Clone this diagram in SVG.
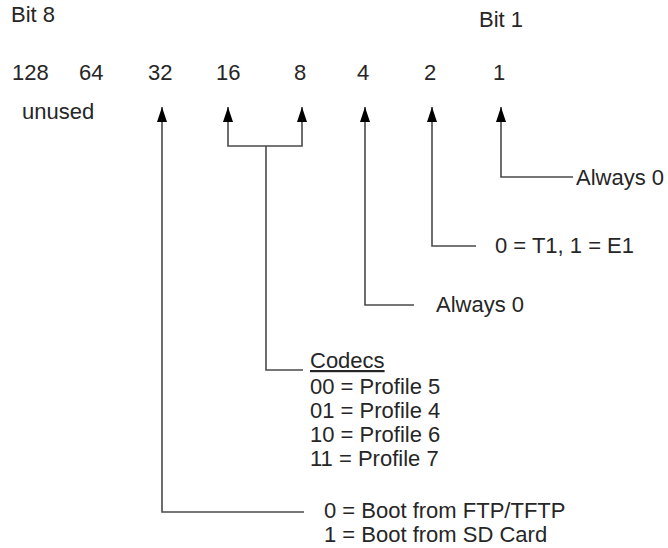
<svg xmlns="http://www.w3.org/2000/svg" width="668" height="548" viewBox="0 0 668 548">
<style>
  text { font-family: "Liberation Sans", Arial, sans-serif; font-size: 22px; fill: #262626; }
  .ln { fill: none; stroke: #4a4a4a; stroke-width: 1.6; }
</style>
<defs>
  <marker id="ah" viewBox="0 0 10 15" refX="5" refY="0" markerWidth="10" markerHeight="15" markerUnits="userSpaceOnUse" orient="0">
    <path d="M5 0 L10 15 L0 15 Z" fill="#000"/>
  </marker>
</defs>
<rect width="668" height="548" fill="#fff"/>
<g id="header">
  <text x="11" y="22">Bit 8</text>
  <text x="479" y="27">Bit 1</text>
</g>
<g id="bits">
  <text x="12" y="80">128</text>
  <text x="79" y="80">64</text>
  <text x="148" y="80">32</text>
  <text x="216" y="80">16</text>
  <text x="294" y="80">8</text>
  <text x="357" y="80">4</text>
  <text x="424" y="80">2</text>
  <text x="493" y="80">1</text>
  <text x="22" y="119">unused</text>
</g>
<g id="connectors">
  <path class="ln" d="M162 107 V512 H304" marker-start="url(#ah)"/>
  <path class="ln" d="M228 107 V146 H302 V107" marker-start="url(#ah)" marker-end="url(#ah)"/>
  <path class="ln" d="M266 146 V370 H303"/>
  <path class="ln" d="M365 107 V305 H414" marker-start="url(#ah)"/>
  <path class="ln" d="M432 107 V246 H476" marker-start="url(#ah)"/>
  <path class="ln" d="M501 107 V177 H573" marker-start="url(#ah)"/>
</g>
<g id="bit1-label"><text x="576" y="185">Always 0</text></g>
<g id="bit2-label"><text x="495" y="253">0 = T1, 1 = E1</text></g>
<g id="bit4-label"><text x="436" y="312">Always 0</text></g>
<g id="codecs-label">
  <text x="310" y="368" text-decoration="underline">Codecs</text>
  <text x="310" y="394">00 = Profile 5</text>
  <text x="310" y="418">01 = Profile 4</text>
  <text x="310" y="442">10 = Profile 6</text>
  <text x="310" y="466">11 = Profile 7</text>
</g>
<g id="boot-label">
  <text x="324" y="518">0 = Boot from FTP/TFTP</text>
  <text x="324" y="542">1 = Boot from SD Card</text>
</g>
</svg>
